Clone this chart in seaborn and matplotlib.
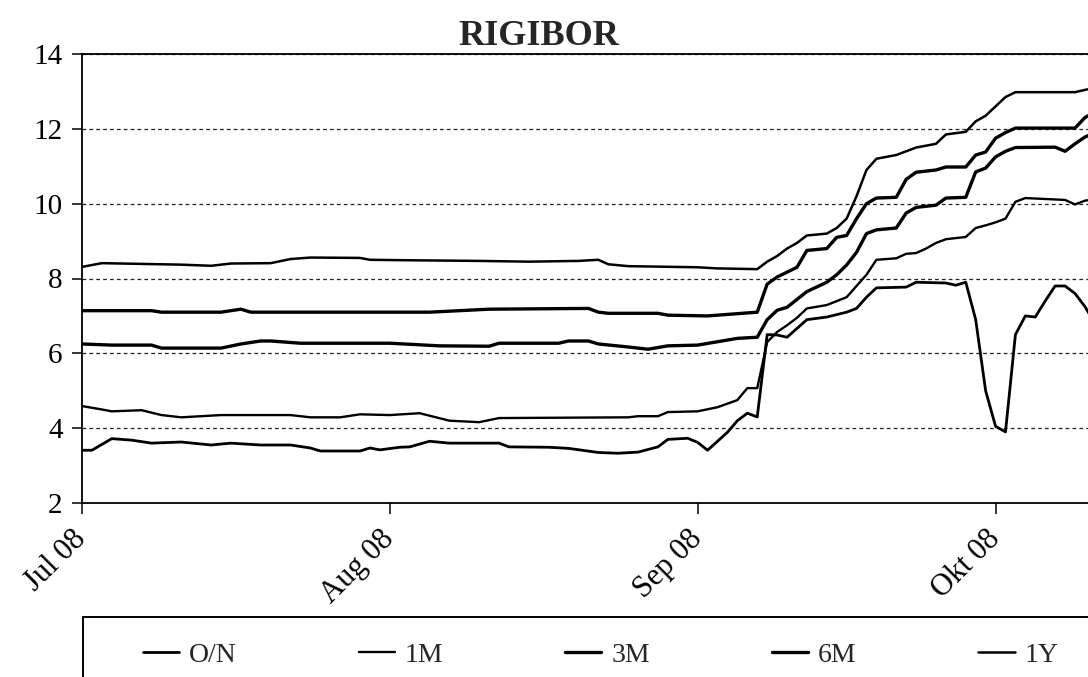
import matplotlib
matplotlib.use("Agg")
import matplotlib.pyplot as plt
import matplotlib.dates as mdates
from matplotlib.patches import Rectangle
from matplotlib.lines import Line2D
import pandas as pd
import seaborn as sns

# ---------------- data ----------------
series_names = ["O/N", "1M", "3M", "6M", "1Y"]

on_dates = ["07-01", "07-02", "07-04", "07-06", "07-08", "07-11", "07-14", "07-16", "07-19", "07-22",
            "07-24", "07-25", "07-29", "07-30", "07-31", "08-02", "08-03", "08-05", "08-07", "08-12",
            "08-13", "08-17", "08-19", "08-22", "08-24", "08-26", "08-28", "08-29", "08-31", "09-01",
            "09-02", "09-04", "09-05", "09-06", "09-07", "09-08", "09-09", "09-10", "09-12", "09-14",
            "09-16", "09-17", "09-18", "09-19", "09-22", "09-23", "09-26", "09-27", "09-28", "09-29",
            "09-30", "10-01", "10-02", "10-03", "10-04", "10-05", "10-06", "10-07", "10-08", "10-09",
            "10-10", "10-11"]
on_values = [3.41, 3.41, 3.72, 3.68, 3.60, 3.63, 3.55, 3.60, 3.55, 3.55,
             3.47, 3.39, 3.39, 3.47, 3.42, 3.49, 3.50, 3.65, 3.60, 3.60,
             3.50, 3.49, 3.46, 3.35, 3.33, 3.36, 3.50, 3.70, 3.73, 3.62,
             3.41, 3.89, 4.20, 4.40, 4.30, 6.50, 6.49, 6.43, 6.90, 6.97,
             7.10, 7.20, 7.50, 7.75, 7.77, 7.90, 7.88, 7.82, 7.90, 6.90,
             5.00, 4.05, 3.90, 6.50, 7.00, 6.97, 7.40, 7.80, 7.80, 7.60,
             7.25, 6.80]

m1_dates = ["07-01", "07-03", "07-04", "07-07", "07-09", "07-11", "07-15", "07-22", "07-24", "07-27",
            "07-29", "08-01", "08-04", "08-07", "08-10", "08-12", "08-25", "08-26", "08-28", "08-29",
            "09-01", "09-03", "09-05", "09-06", "09-07", "09-08", "09-09", "09-10", "09-11", "09-12",
            "09-14", "09-16", "09-17", "09-18", "09-19", "09-21", "09-22", "09-23", "09-24", "09-25",
            "09-26", "09-28", "09-29", "09-30", "10-01", "10-02", "10-03", "10-04", "10-08", "10-09",
            "10-10", "10-11"]
m1_values = [4.59, 4.50, 4.45, 4.48, 4.35, 4.29, 4.35, 4.35, 4.29, 4.29,
             4.37, 4.35, 4.40, 4.20, 4.16, 4.27, 4.29, 4.32, 4.32, 4.43,
             4.45, 4.56, 4.75, 5.07, 5.07, 6.30, 6.57, 6.75, 6.95, 7.20,
             7.29, 7.50, 7.80, 8.10, 8.50, 8.54, 8.66, 8.68, 8.80, 8.95,
             9.05, 9.11, 9.35, 9.42, 9.50, 9.60, 10.05, 10.15, 10.10, 9.98,
             10.08, 10.12]

m3_dates = ["07-01", "07-04", "07-08", "07-09", "07-15", "07-17", "07-19", "07-20", "07-23", "08-01",
            "08-06", "08-11", "08-12", "08-18", "08-19", "08-21", "08-22", "08-25", "08-27", "08-29",
            "09-01", "09-05", "09-07", "09-08", "09-09", "09-10", "09-12", "09-14", "09-15", "09-16",
            "09-17", "09-18", "09-19", "09-21", "09-22", "09-23", "09-25", "09-26", "09-28", "09-29",
            "09-30", "10-01", "10-02", "10-03", "10-07", "10-08", "10-09", "10-10", "10-11"]
m3_values = [6.25, 6.22, 6.22, 6.14, 6.14, 6.25, 6.33, 6.33, 6.27, 6.27,
             6.20, 6.19, 6.27, 6.27, 6.33, 6.33, 6.25, 6.17, 6.11, 6.20,
             6.22, 6.40, 6.43, 6.90, 7.15, 7.23, 7.65, 7.90, 8.10, 8.36,
             8.70, 9.20, 9.30, 9.35, 9.75, 9.90, 9.96, 10.15, 10.17, 10.85,
             10.95, 11.25, 11.40, 11.50, 11.51, 11.40, 11.60, 11.78, 11.90]

m6_dates = ["07-01", "07-08", "07-09", "07-15", "07-17", "07-18", "08-05", "08-11", "08-21", "08-22",
            "08-23", "08-28", "08-29", "09-02", "09-07", "09-08", "09-09", "09-11", "09-12", "09-14",
            "09-15", "09-16", "09-17", "09-18", "09-19", "09-21", "09-22", "09-23", "09-25", "09-26",
            "09-28", "09-29", "09-30", "10-01", "10-02", "10-03", "10-09", "10-10", "10-11"]
m6_values = [7.14, 7.14, 7.10, 7.10, 7.18, 7.10, 7.10, 7.18, 7.20, 7.10,
             7.07, 7.07, 7.02, 7.00, 7.10, 7.85, 8.04, 8.30, 8.75, 8.80,
             9.10, 9.15, 9.60, 10.00, 10.15, 10.17, 10.65, 10.84, 10.90, 10.98,
             10.98, 11.30, 11.38, 11.75, 11.90, 12.02, 12.02, 12.30, 12.45]

y1_dates = ["07-01", "07-03", "07-11", "07-14", "07-16", "07-20", "07-22", "07-24", "07-29", "07-30",
            "08-02", "08-10", "08-15", "08-20", "08-22", "08-23", "08-25", "09-01", "09-03", "09-07",
            "09-08", "09-09", "09-10", "09-11", "09-12", "09-14", "09-15", "09-16", "09-17", "09-18",
            "09-19", "09-21", "09-23", "09-25", "09-26", "09-28", "09-29", "09-30", "10-01", "10-02",
            "10-03", "10-09", "10-10", "10-11"]
y1_values = [8.31, 8.41, 8.37, 8.34, 8.40, 8.41, 8.52, 8.56, 8.55, 8.50,
             8.49, 8.47, 8.45, 8.47, 8.50, 8.38, 8.33, 8.30, 8.27, 8.25,
             8.45, 8.60, 8.80, 8.95, 9.15, 9.20, 9.35, 9.60, 10.20, 10.90,
             11.20, 11.30, 11.50, 11.60, 11.85, 11.92, 12.20, 12.35, 12.60, 12.85,
             12.98, 12.98, 13.04, 13.10]

tick_dates = ["2008-07-01", "2008-08-01", "2008-09-01", "2008-10-01"]
tick_labels = ["Jul 08", "Aug 08", "Sep 08", "Okt 08"]
y_ticks = [2, 4, 6, 8, 10, 12, 14]

series_dates = [on_dates, m1_dates, m3_dates, m6_dates, y1_dates]
series_values = [on_values, m1_values, m3_values, m6_values, y1_values]
line_widths = [2.0, 1.7, 2.4, 2.4, 1.8]

frames = []
for name, ds, vs in zip(series_names, series_dates, series_values):
    frames.append(pd.DataFrame({"date": pd.to_datetime(["2008-" + d for d in ds]),
                                "rate": vs, "tenor": name}))
df = pd.concat(frames, ignore_index=True)

# ---------------- style ----------------
sns.set_style("white")
plt.rcParams["font.family"] = ["Liberation Serif", "DejaVu Serif"]
plt.rcParams["axes.unicode_minus"] = False

W, H = 1088, 677
fig = plt.figure(figsize=(W / 100, H / 100), dpi=100)
px_per_day = 9.93
x0, x_right_px = 82, 1093
y_top, y_bot = 54, 503
ax = fig.add_axes([x0 / W, 1 - y_bot / H, (x_right_px - x0) / W, (y_bot - y_top) / H])

for name, lw in zip(series_names, line_widths):
    sns.lineplot(data=df[df["tenor"] == name], x="date", y="rate", ax=ax,
                 color="black", linewidth=lw, legend=False)

start = pd.Timestamp("2008-07-01")
ax.set_xlim(start, start + pd.Timedelta(days=(x_right_px - x0) / px_per_day))
ax.set_ylim(2, 14)
ax.set_yticks(y_ticks)
ax.set_yticklabels([str(v) for v in y_ticks])
ax.set_xticks(pd.to_datetime(tick_dates))
ax.set_xticklabels(tick_labels, rotation=45, ha="right", va="center",
                   rotation_mode="anchor")
ax.set_xlabel("")
ax.set_ylabel("")

ax.yaxis.grid(True, linestyle=(0, (3, 2.5)), color="#222222", linewidth=0.9)
ax.xaxis.grid(False)
for side in ["left", "bottom", "top"]:
    ax.spines[side].set_visible(True)
    ax.spines[side].set_color("black")
    ax.spines[side].set_linewidth(1.3)
ax.spines["right"].set_visible(False)

ax.tick_params(axis="y", direction="out", length=7, width=1.1, pad=7,
               labelsize=21, colors="black", left=True)
ax.tick_params(axis="x", direction="out", length=8, width=1.1, pad=15,
               labelsize=22, colors="black", bottom=True)

fig.text(0.495, 1 - 45 / H, "RIGIBOR", ha="center", va="baseline",
         fontsize=26, fontweight="bold")

# legend box (runs off the right and bottom of the image)
box = Rectangle((83 / W, -0.2), 1.2, (1 - 617 / H) + 0.2, transform=fig.transFigure,
                fill=False, edgecolor="black", linewidth=1.4, clip_on=False)
fig.add_artist(box)

handles = [Line2D([], [], color="black", linewidth=lw) for lw in line_widths]
fig.legend(handles, series_names, loc="center left",
           bbox_to_anchor=(143 / W, 1 - 655 / H), ncol=5, frameon=False,
           fontsize=20, handlelength=1.3, handletextpad=0.35, columnspacing=4.4,
           borderpad=0, borderaxespad=0)

fig.savefig("out.png", dpi=100)
